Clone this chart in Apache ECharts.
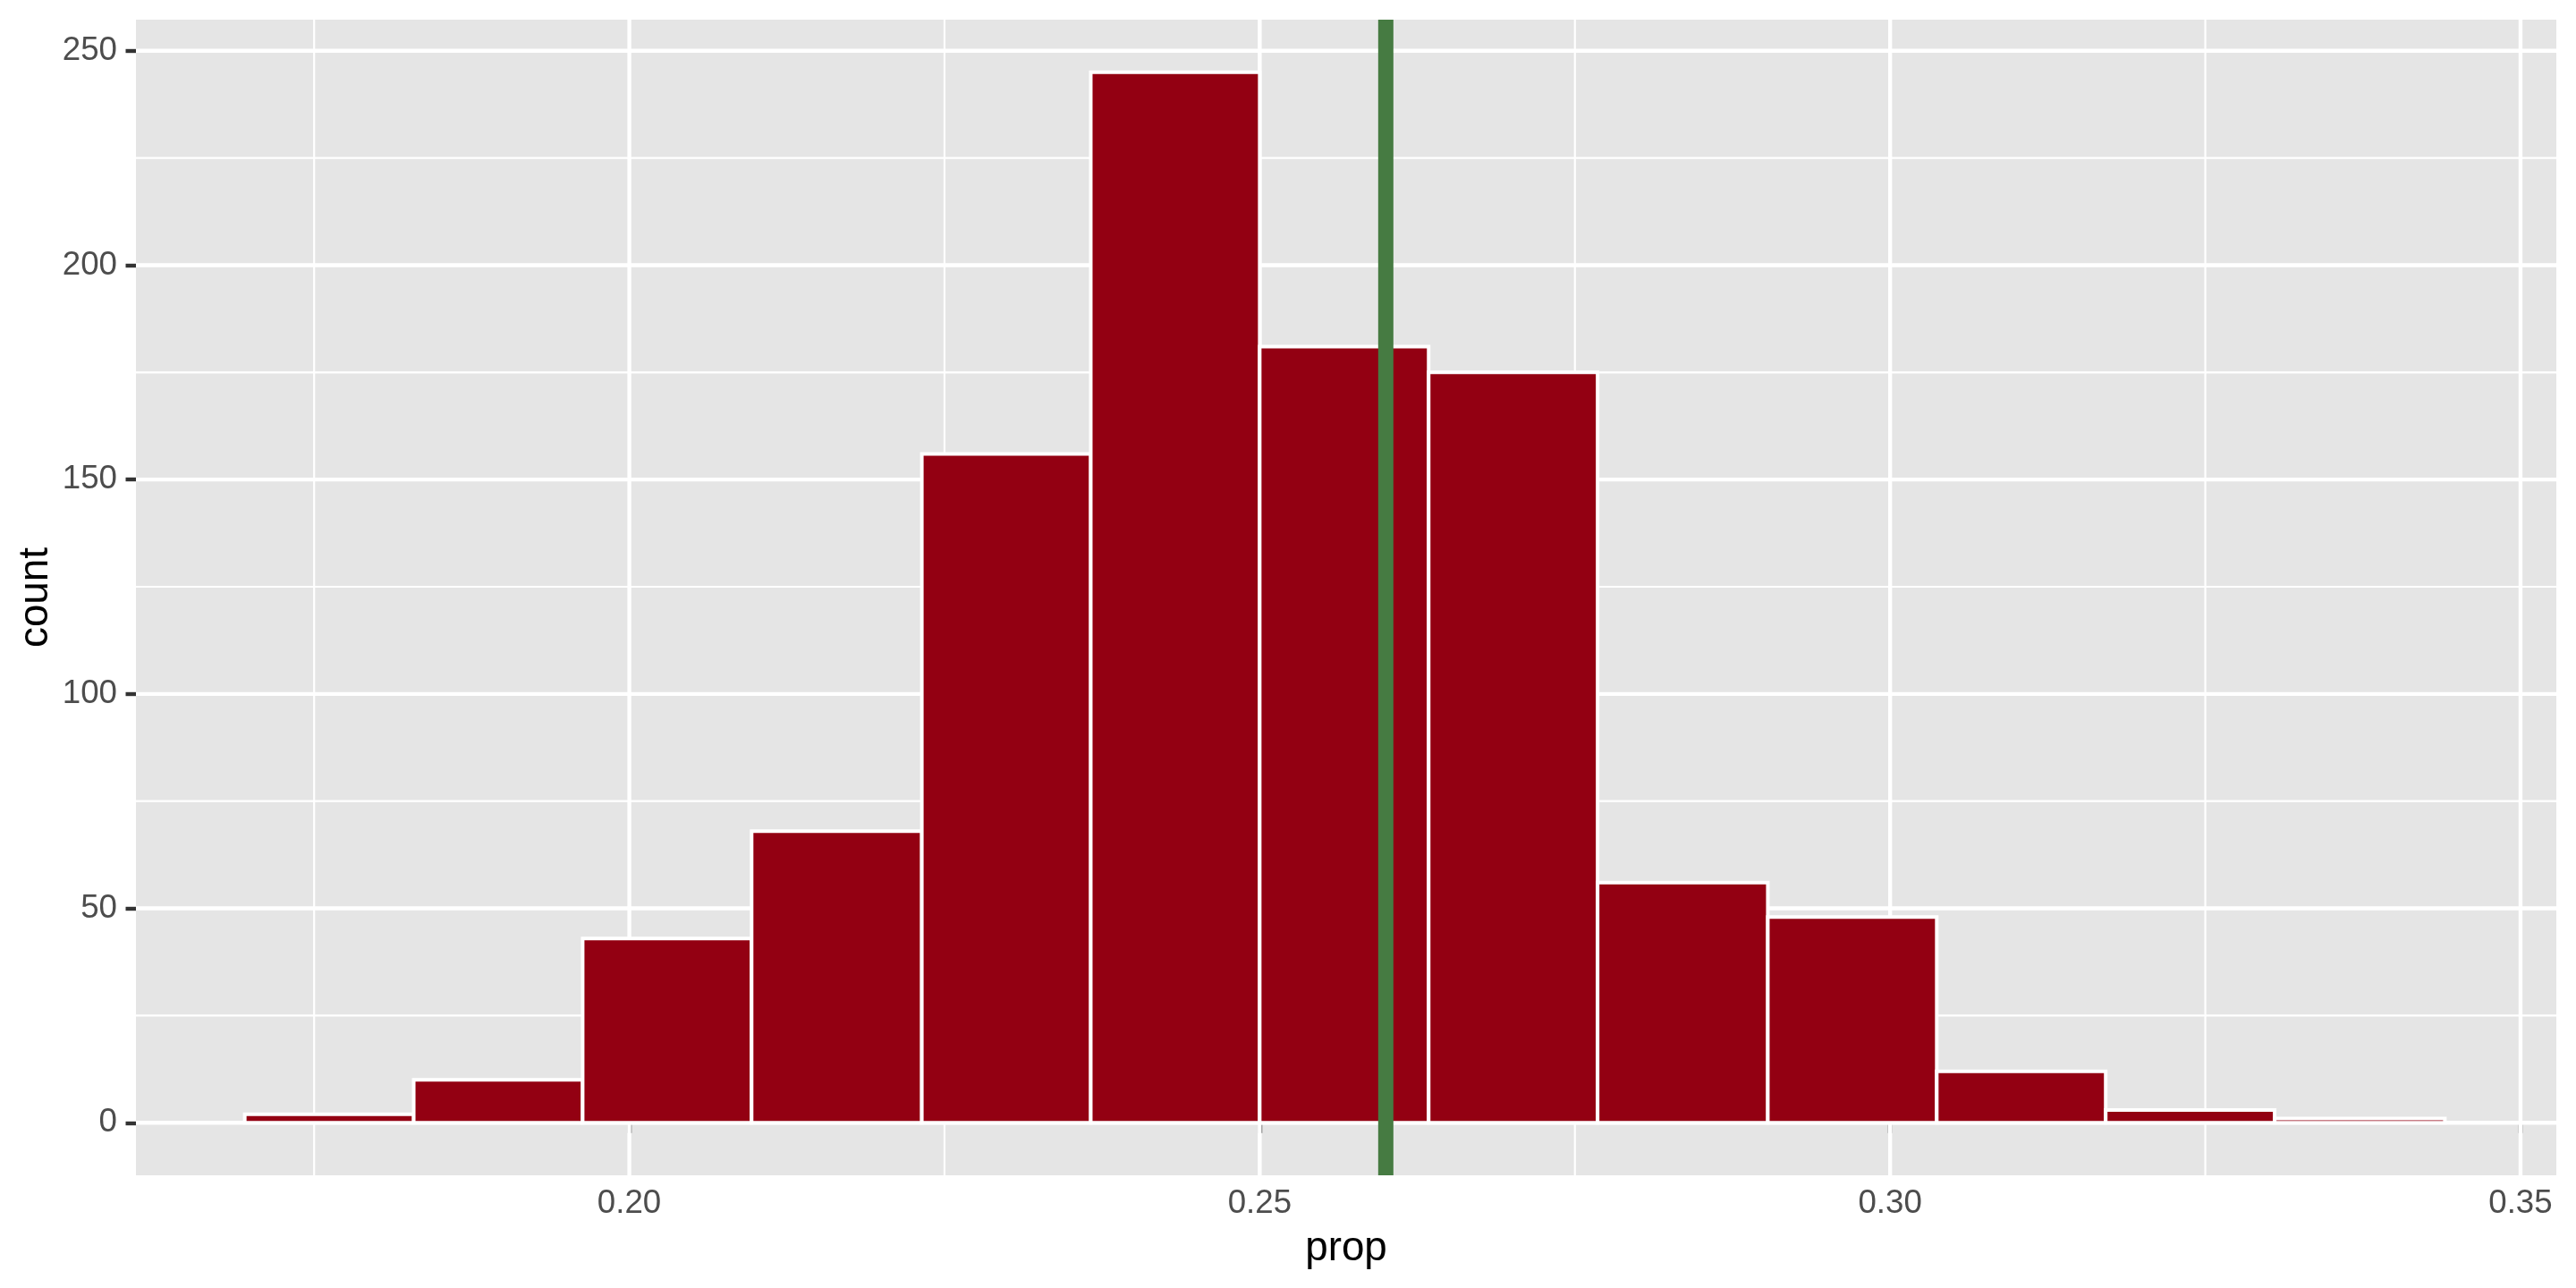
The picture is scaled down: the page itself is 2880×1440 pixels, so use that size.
<!DOCTYPE html>
<html>
<head>
<meta charset="utf-8">
<script src="https://cdn.jsdelivr.net/npm/echarts@6/dist/echarts.min.js"></script>
<style>
html,body{margin:0;padding:0;background:#fff;}
#chart{width:2880px;height:1440px;}
</style>
</head>
<body>
<div id="chart"></div>
<script>
// ---- data ----
var binEdges = [0.1695, 0.1829, 0.1963, 0.2097, 0.2232, 0.2366, 0.2500, 0.2634, 0.2768, 0.2903, 0.3037, 0.3171, 0.3305, 0.3440];
var counts   = [2, 10, 43, 68, 156, 245, 181, 175, 56, 48, 12, 3, 1];
var refLine  = [0.26];
var xTicks   = [0.20, 0.25, 0.30, 0.35];
var xMinor   = [0.175, 0.225, 0.275, 0.325];
var yTicks   = [0, 50, 100, 150, 200, 250];
var yMinor   = [25, 75, 125, 175, 225];
var xLimits  = [0.16087, 0.35284];
var yLimits  = [-12.25, 257.25];

var FONT = '"Liberation Sans", Arial, Helvetica, sans-serif';
var barData = counts.map(function (c, i) { return [binEdges[i], binEdges[i + 1], c]; });

function vGrid(width, z) {
  return function (params, api) {
    var cs = params.coordSys;
    var x = api.coord([api.value(0), 0])[0];
    return { type: 'line', z2: z,
      shape: { x1: x, y1: cs.y, x2: x, y2: cs.y + cs.height },
      style: { stroke: '#ffffff', lineWidth: width } };
  };
}
function hGrid(width, z) {
  return function (params, api) {
    var cs = params.coordSys;
    var y = api.coord([xLimits[0], api.value(1)])[1];
    return { type: 'line', z2: z,
      shape: { x1: cs.x, y1: y, x2: cs.x + cs.width, y2: y },
      style: { stroke: '#ffffff', lineWidth: width } };
  };
}

var chart = echarts.init(document.getElementById('chart'), null, { renderer: 'canvas' });
chart.setOption({
  animation: false,
  backgroundColor: '#ffffff',
  grid: { left: 152, right: 22, top: 22, bottom: 126, show: true,
          backgroundColor: '#E5E5E5', borderWidth: 0, containLabel: false },
  xAxis: {
    type: 'value', min: xLimits[0], max: xLimits[1],
    axisLine: { show: false },
    axisTick: { show: true, customValues: xTicks, length: 11.5, lineStyle: { color: '#333333', width: 4.4 } },
    axisLabel: { customValues: xTicks, margin: 13, fontSize: 36.7, color: '#4D4D4D', fontFamily: FONT,
                 formatter: function (v) { return v.toFixed(2); } },
    splitLine: { show: false }
  },
  yAxis: {
    type: 'value', min: yLimits[0], max: yLimits[1],
    axisLine: { show: false },
    axisTick: { show: true, customValues: yTicks, length: 11.5, lineStyle: { color: '#333333', width: 4.4 } },
    axisLabel: { customValues: yTicks, margin: 21, fontSize: 36.7, color: '#4D4D4D', fontFamily: FONT },
    splitLine: { show: false }
  },
  graphic: [
    { type: 'text', x: 1505, y: 1396, silent: true,
      style: { text: 'prop', fontSize: 45.8, fontFamily: FONT, fill: '#000000', align: 'center', verticalAlign: 'middle' } },
    { type: 'text', x: 40, y: 668, rotation: Math.PI / 2, silent: true,
      style: { text: 'count', fontSize: 45.8, fontFamily: FONT, fill: '#000000', align: 'center', verticalAlign: 'middle' } }
  ],
  series: [
    { type: 'custom', z: 1, silent: true, data: xMinor.map(function (v) { return [v, 0]; }), renderItem: vGrid(2.2, 1) },
    { type: 'custom', z: 1, silent: true, data: yMinor.map(function (v) { return [xLimits[0], v]; }), renderItem: hGrid(2.2, 1) },
    { type: 'custom', z: 2, silent: true, data: xTicks.map(function (v) { return [v, 0]; }), renderItem: vGrid(4.4, 2) },
    { type: 'custom', z: 2, silent: true, data: yTicks.map(function (v) { return [xLimits[0], v]; }), renderItem: hGrid(4.4, 2) },
    { type: 'custom', z: 3, silent: true, data: barData,
      encode: { x: [0, 1], y: 2 },
      renderItem: function (params, api) {
        var p0 = api.coord([api.value(0), api.value(2)]);
        var p1 = api.coord([api.value(1), 0]);
        return { type: 'rect',
          shape: { x: p0[0], y: p0[1], width: p1[0] - p0[0], height: p1[1] - p0[1] },
          style: { fill: '#930012', stroke: '#ffffff', lineWidth: 4 } };
      } },
    { type: 'custom', z: 4, silent: true, data: refLine.map(function (v) { return [v, 0]; }),
      renderItem: function (params, api) {
        var cs = params.coordSys;
        var x = api.coord([api.value(0), 0])[0];
        return { type: 'line',
          shape: { x1: x, y1: cs.y, x2: x, y2: cs.y + cs.height },
          style: { stroke: '#467B42', lineWidth: 17, lineCap: 'butt' } };
      } }
  ]
});
</script>
</body>
</html>
